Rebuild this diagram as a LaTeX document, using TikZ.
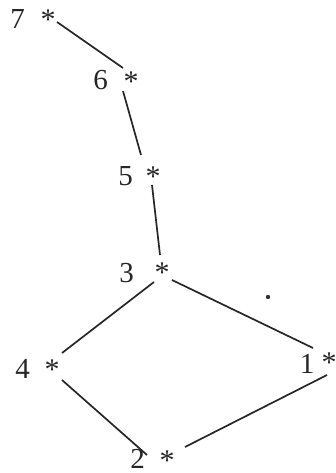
\documentclass[tikz,border=0pt]{standalone}
\usepackage{fontspec}
\setmainfont{Liberation Serif}
\newcommand{\gstar}{\raisebox{-.47em}[.21em][.21em]{*}}
\begin{document}
\begin{tikzpicture}[x=1pt,y=-1pt,
  starnode/.style={inner sep=0pt,anchor=base,text=black!85,
    font=\fontsize{30}{32}\selectfont},
  numlabel/.style={inner sep=0pt,anchor=base,text=black!85,
    font=\fontsize{29}{32}\selectfont},
  edge/.style={draw=black!85,line width=1.7pt}]
\useasboundingbox (0,0) rectangle (335,473);
% star nodes (base anchor = glyph centre)
\node[starnode] (s7) at (48,15)  {\gstar};
\node[starnode] (s6) at (131,77) {\gstar};
\node[starnode] (s5) at (153,172){\gstar};
\node[starnode] (s3) at (162,268){\gstar};
\node[starnode] (s4) at (52,365) {\gstar};
\node[starnode] (s1) at (329,358){\gstar};
\node[starnode] (s2) at (167,456){\gstar};
% labels
\node[numlabel] (l7) at (17.5,29) {7};
\node[numlabel] (l6) at (100.5,90) {6};
\node[numlabel] (l5) at (125.5,185) {5};
\node[numlabel] (l3) at (126.5,282) {3};
\node[numlabel] (l4) at (22.5,378) {4};
\node[numlabel] (l1) at (307,373) {1};
\node[numlabel] (l2) at (137.5,468) {2};
% connectors
\draw[edge] ([shift={(9,7)}]s7.base) -- ([shift={(-8,-9)}]s6.base);
\draw[edge] ([shift={(-8,14)}]s6.base) -- ([shift={(-12,-17)}]s5.base);
\draw[edge] ([shift={(-1,13)}]s5.base) -- ([shift={(-2,-13)}]s3.base);
\draw[edge] ([shift={(-8,14)}]s3.base) -- ([shift={(10,-12)}]s4.base);
\draw[edge] ([shift={(10,12)}]s3.base) -- ([shift={(-16,-10)}]s1.base);
\draw[edge] ([shift={(10,15)}]s4.base) -- ([shift={(-20,-1)}]s2.base);
\draw[edge] ([shift={(18,-9)}]s2.base) -- ([shift={(-2,17)}]s1.base);
% speck
\fill[black!80] (268,297) circle (2.2pt);
\end{tikzpicture}
\end{document}
